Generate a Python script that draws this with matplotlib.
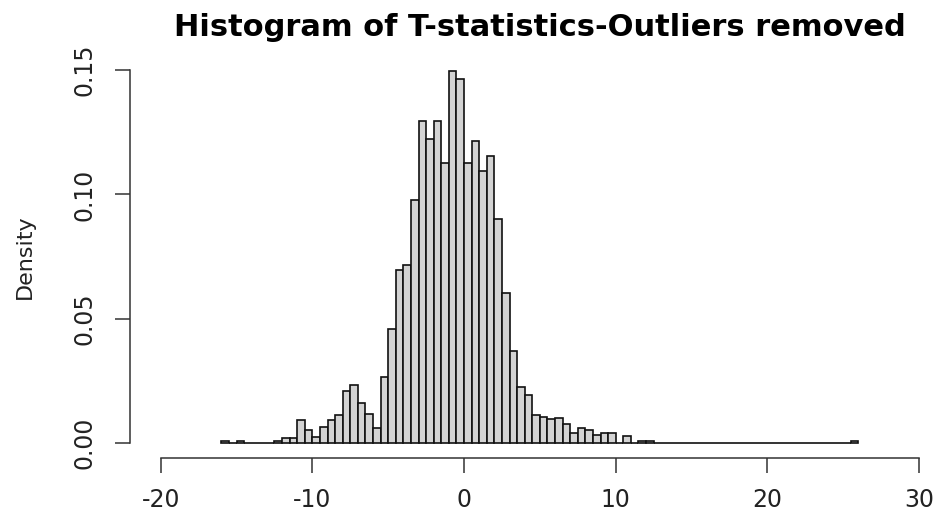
import numpy as np
import matplotlib
matplotlib.use('Agg')
import matplotlib.pyplot as plt

# histogram bins (width 0.5) from -16 to 26, densities
bin_start = -16.0
bin_width = 0.5
density = [
    0.0008, 0.0, 0.0008, 0.0, 0.0, 0.0, 0.0, 0.0008,   # -16 .. -12.5
    0.0021, 0.0019, 0.0095, 0.0052, 0.0025, 0.0066, 0.0095, 0.0113,   # -12 .. -8.5
    0.0209, 0.0233, 0.0162, 0.0119, 0.0062, 0.0267, 0.0461, 0.0696,   # -8 .. -4.5
    0.0716, 0.0977, 0.1295, 0.1222, 0.1295, 0.1128, 0.1496, 0.1464,   # -4 .. -0.5
    0.1128, 0.1215, 0.1094, 0.1154, 0.0901, 0.0602, 0.0370, 0.0224,   # 0 .. 3.5
    0.0193, 0.0112, 0.0104, 0.0099, 0.0103, 0.0076, 0.0039, 0.0062,   # 4 .. 7.5
    0.0052, 0.0032, 0.0041, 0.0041, 0.0, 0.0028, 0.0, 0.0008,         # 8 .. 11.5
    0.0008, 0.0, 0.0, 0.0, 0.0, 0.0, 0.0, 0.0,                         # 12 .. 15.5
    0.0, 0.0, 0.0, 0.0, 0.0, 0.0, 0.0, 0.0,                            # 16 .. 19.5
    0.0, 0.0, 0.0, 0.0, 0.0, 0.0, 0.0, 0.0,                            # 20 .. 23.5
    0.0, 0.0, 0.0, 0.0008,                                             # 24 .. 25.5
]
x_ticks = [-20, -10, 0, 10, 20, 30]
y_ticks = [0.00, 0.05, 0.10, 0.15]
y_tick_labels = ['0.00', '0.05', '0.10', '0.15']

edges = bin_start + bin_width * np.arange(len(density))

fig = plt.figure(figsize=(9.37, 5.21), dpi=100)
ax = fig.add_axes([0.1391, 0.1207, 0.8742, 0.7735])

ax.bar(edges, density, width=bin_width, align='edge',
       color='#d3d3d3', edgecolor='#111111', linewidth=1.2)

ax.set_xlim(-22, 32)
ax.set_ylim(-0.006, 0.156)

for s in ['top', 'right']:
    ax.spines[s].set_visible(False)
ax.spines['bottom'].set_bounds(-20, 30)
ax.spines['left'].set_bounds(0, 0.15)
for s in ['bottom', 'left']:
    ax.spines[s].set_linewidth(1.1)
    ax.spines[s].set_color('#333333')

ax.set_xticks(x_ticks)
ax.set_xticklabels([str(t) for t in x_ticks])
ax.set_yticks(y_ticks)
ax.set_yticklabels(y_tick_labels, rotation=90, va='center')
ax.tick_params(axis='both', direction='out', length=10.5, width=1.1,
               color='#333333', labelsize=17, labelcolor='#222222')
ax.tick_params(axis='x', pad=11)
ax.tick_params(axis='y', pad=14)

ax.set_ylabel('Density', fontsize=16, color='#222222')
ax.yaxis.set_label_coords(-0.116, 0.5)
ax.set_title('Histogram of T-statistics-Outliers removed',
             fontsize=22, fontweight='bold', pad=14)

fig.savefig('out.png', dpi=100)
